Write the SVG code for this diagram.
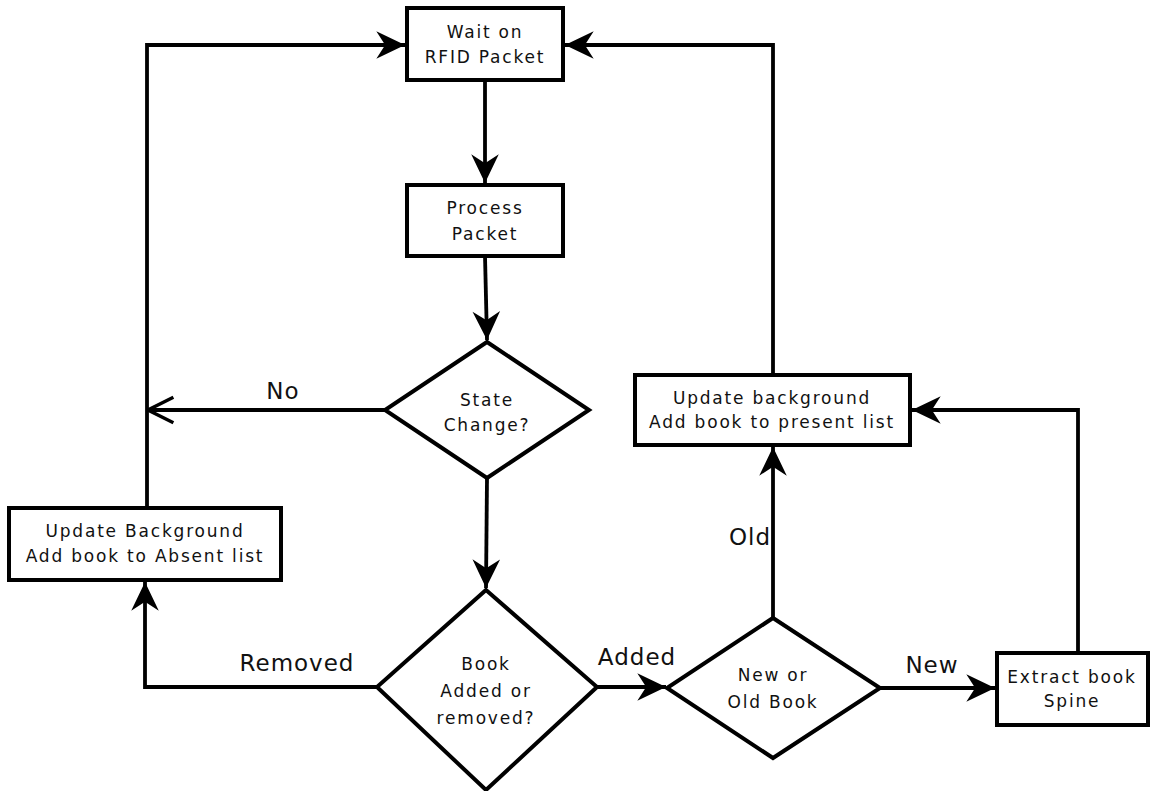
<svg xmlns="http://www.w3.org/2000/svg" width="1160" height="791" viewBox="0 0 1160 791">
<style>
.box{fill:#fff;stroke:#000;stroke-width:4}
.t{font-family:"DejaVu Sans",sans-serif;font-size:17px;letter-spacing:1.8px;text-anchor:middle;fill:#111}
.lbl{font-family:"DejaVu Sans",sans-serif;font-size:23px;letter-spacing:1px;text-anchor:middle;fill:#111}
.c{fill:none;stroke:#000;stroke-width:3.8}
</style>
<defs>
<marker id="ah" markerUnits="userSpaceOnUse" markerWidth="32" markerHeight="32" viewBox="-27 -14 29 28" refX="0" refY="0" orient="auto">
<path d="M0,0 L-26,-12.5 L-18,0 L-26,12.5 Z" fill="#000"/>
</marker>
<marker id="open" markerUnits="userSpaceOnUse" markerWidth="30" markerHeight="30" viewBox="-24 -13 26 26" refX="0" refY="0" orient="auto">
<path d="M-22,-11 L0,0 L-22,11" fill="none" stroke="#000" stroke-width="3"/>
</marker>
</defs>
<g id="connectors">
<line class="c" x1="485" y1="80" x2="485" y2="183" marker-end="url(#ah)"/>
<line class="c" x1="485" y1="256" x2="487" y2="340" marker-end="url(#ah)"/>
<line class="c" x1="385" y1="410" x2="148" y2="410" marker-end="url(#open)"/>
<polyline class="c" points="147,508 147,45 405,45" marker-end="url(#ah)"/>
<line class="c" x1="487" y1="478" x2="486" y2="588" marker-end="url(#ah)"/>
<polyline class="c" points="377,687 145,687 145,582" marker-end="url(#ah)"/>
<line class="c" x1="597" y1="687" x2="666" y2="687" marker-end="url(#ah)"/>
<line class="c" x1="880" y1="688" x2="995" y2="688" marker-end="url(#ah)"/>
<polyline class="c" points="1078,653 1078,410 912,410" marker-end="url(#ah)"/>
<line class="c" x1="773" y1="618" x2="773" y2="447" marker-end="url(#ah)"/>
<polyline class="c" points="773,375 773,45 565,45" marker-end="url(#ah)"/>
<text class="lbl" x="283" y="399">No</text>
<text class="lbl" x="297" y="671">Removed</text>
<text class="lbl" x="637" y="665">Added</text>
<text class="lbl" x="932" y="673">New</text>
<text class="lbl" x="750" y="545">Old</text>
</g>
<g id="wait">
<rect class="box" x="407" y="8" width="156" height="72"/>
<text class="t" x="485" y="38">Wait on</text>
<text class="t" x="485" y="63">RFID Packet</text>
</g>
<g id="process">
<rect class="box" x="407" y="185" width="156" height="71"/>
<text class="t" x="485" y="214">Process</text>
<text class="t" x="485" y="240">Packet</text>
</g>
<g id="state">
<polygon class="box" points="487,342 589,410 487,478 385,410"/>
<text class="t" x="487" y="406">State</text>
<text class="t" x="487" y="431">Change?</text>
</g>
<g id="absent">
<rect class="box" x="9" y="508" width="272" height="72"/>
<text class="t" x="145" y="537">Update Background</text>
<text class="t" x="145" y="562">Add book to Absent list</text>
</g>
<g id="addrem">
<polygon class="box" points="486,590 597,687 486,790 377,687"/>
<text class="t" x="486" y="670">Book</text>
<text class="t" x="486" y="697">Added or</text>
<text class="t" x="486" y="724">removed?</text>
</g>
<g id="newold">
<polygon class="box" points="773,618 880,688 773,758 667,688"/>
<text class="t" x="773" y="681">New or</text>
<text class="t" x="773" y="708">Old Book</text>
</g>
<g id="extract">
<rect class="box" x="997" y="653" width="151" height="72"/>
<text class="t" x="1072" y="683">Extract book</text>
<text class="t" x="1072" y="707">Spine</text>
</g>
<g id="present">
<rect class="box" x="635" y="375" width="275" height="70"/>
<text class="t" x="772" y="404">Update background</text>
<text class="t" x="772" y="428">Add book to present list</text>
</g>
</svg>
